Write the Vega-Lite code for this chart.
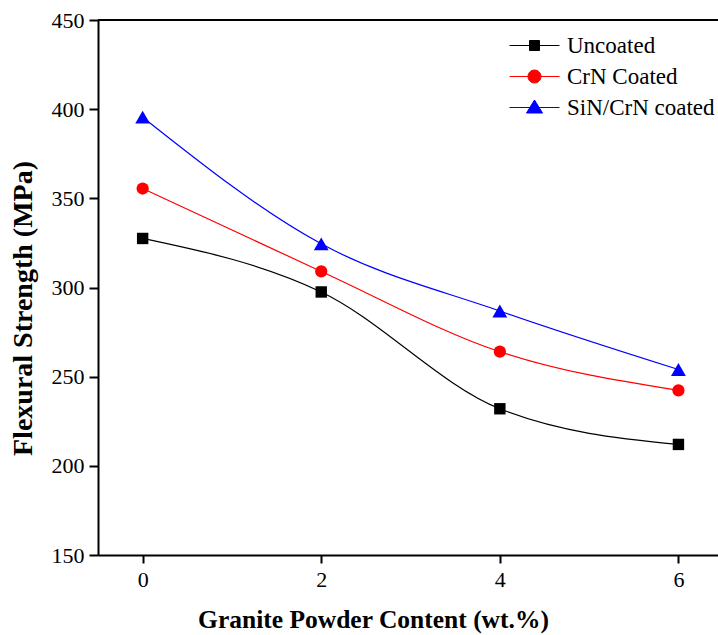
{
  "$schema": "https://vega.github.io/schema/vega-lite/v6.json",
  "width": 620,
  "height": 535,
  "autosize": {"type": "none"},
  "padding": {"left": 98, "top": 20, "right": 0, "bottom": 80},
  "background": "white",
  "config": {
    "view": {"stroke": null},
    "font": "Liberation Serif"
  },
  "data": {
    "values": [
      {"content": 0, "strength": 327.5, "series": "Uncoated"},
      {"content": 2, "strength": 297.5, "series": "Uncoated"},
      {"content": 4, "strength": 232, "series": "Uncoated"},
      {"content": 6, "strength": 212, "series": "Uncoated"},
      {"content": 0, "strength": 355.5, "series": "CrN Coated"},
      {"content": 2, "strength": 309, "series": "CrN Coated"},
      {"content": 4, "strength": 264, "series": "CrN Coated"},
      {"content": 6, "strength": 242.3, "series": "CrN Coated"},
      {"content": 0, "strength": 395.5, "series": "SiN/CrN coated"},
      {"content": 2, "strength": 324.5, "series": "SiN/CrN coated"},
      {"content": 4, "strength": 286.8, "series": "SiN/CrN coated"},
      {"content": 6, "strength": 254, "series": "SiN/CrN coated"}
    ]
  },
  "encoding": {
    "x": {
      "field": "content", "type": "quantitative",
      "scale": {"domain": [-0.5, 6.443], "nice": false, "zero": false},
      "axis": {
        "values": [0, 2, 4, 6], "title": "Granite Powder Content (wt.%)",
        "grid": false, "domainColor": "black", "domainWidth": 2,
        "tickColor": "black", "tickWidth": 2, "tickSize": 8,
        "labelFont": "Liberation Serif", "labelFontSize": 22, "labelColor": "black", "labelPadding": 6,
        "titleFont": "Liberation Serif", "titleFontSize": 25.5, "titleFontWeight": "bold", "titleColor": "black",
        "titleX": 275, "titleY": 72, "titleAlign": "center", "titleBaseline": "alphabetic"
      }
    },
    "y": {
      "field": "strength", "type": "quantitative",
      "scale": {"domain": [150, 450], "nice": false, "zero": false},
      "axis": {
        "values": [150, 200, 250, 300, 350, 400, 450], "title": "Flexural Strength (MPa)",
        "grid": false, "domainColor": "black", "domainWidth": 2,
        "tickColor": "black", "tickWidth": 2, "tickSize": 9,
        "labelFont": "Liberation Serif", "labelFontSize": 22, "labelColor": "black", "labelPadding": 5,
        "titleFont": "Liberation Serif", "titleFontSize": 28, "titleFontWeight": "bold", "titleColor": "black",
        "titleAngle": -90, "titleX": -75, "titleY": 288, "titleAlign": "center", "titleBaseline": "middle"
      }
    },
    "color": {
      "field": "series", "type": "nominal",
      "scale": {"domain": ["Uncoated", "CrN Coated", "SiN/CrN coated"], "range": ["#000000", "#ff0000", "#0000ff"]},
      "legend": {
        "orient": "none", "legendX": 425, "legendY": 14, "title": null,
        "padding": 0, "symbolSize": 400, "symbolStrokeWidth": 1,
        "labelFont": "Liberation Serif", "labelFontSize": 23, "labelColor": "black",
        "labelOffset": 21, "rowPadding": 7,
        "encode": {
          "symbols": {
            "update": {
              "shape": {"signal": "datum.value == 'Uncoated' ? 'M-2.5,0H2.5M-0.5,-0.5H0.5V0.5H-0.5Z' : datum.value == 'CrN Coated' ? 'M-2.5,0H2.5M0.65,0A0.65,0.65,0,1,1,-0.65,0A0.65,0.65,0,1,1,0.65,0Z' : 'M-2.5,0H2.5M0,-0.75L0.8,0.55L-0.8,0.55Z'"},
              "fill": {"signal": "scale('color', datum.value)"},
              "stroke": {"signal": "scale('color', datum.value)"},
              "strokeWidth": {"value": 1},
              "opacity": {"value": 1}
            }
          }
        }
      }
    }
  },
  "layer": [
    {
      "mark": {"type": "rule", "color": "black", "strokeWidth": 2},
      "encoding": {"y": {"datum": 450}, "x": null, "color": null}
    },
    {
      "mark": {"type": "line", "interpolate": "monotone", "strokeWidth": 1.2},
      "encoding": {}
    },
    {
      "transform": [{"filter": "datum.series == 'Uncoated'"}],
      "mark": {"type": "point", "filled": true, "opacity": 1, "shape": "square", "size": 130},
      "encoding": {}
    },
    {
      "transform": [{"filter": "datum.series == 'CrN Coated'"}],
      "mark": {"type": "point", "filled": true, "opacity": 1, "shape": "circle", "size": 150},
      "encoding": {}
    },
    {
      "transform": [{"filter": "datum.series == 'SiN/CrN coated'"}],
      "mark": {"type": "point", "filled": true, "opacity": 1, "shape": "triangle-up", "size": 220},
      "encoding": {}
    }
  ]
}
